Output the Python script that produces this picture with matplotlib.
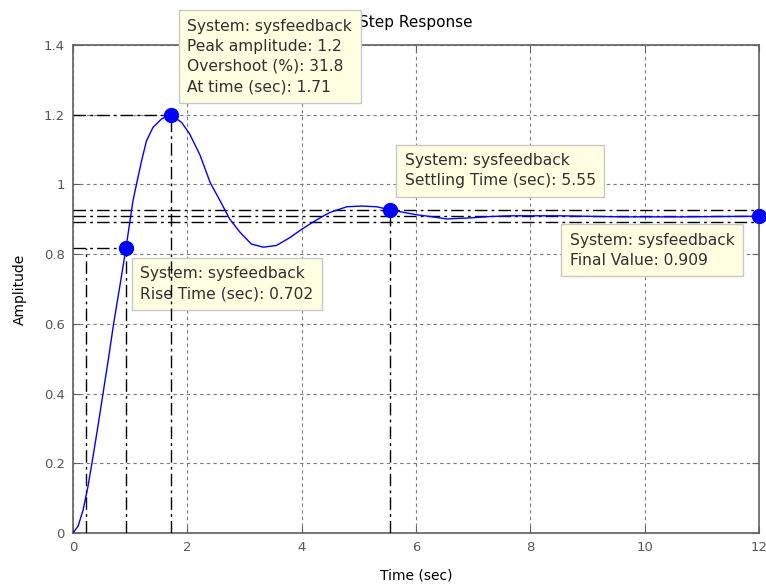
"""Respuesta al escalón del lazo cerrado con sus características marcadas."""
import numpy as np
import matplotlib.pyplot as plt

plt.rcParams['font.family'] = ['DejaVu Sans']

# Curva de respuesta (tiempo en s, amplitud)
t_resp = [0, 0.09, 0.175, 0.26, 0.33, 0.43, 0.525, 0.62, 0.71, 0.835, 0.927,
          1.05, 1.11, 1.2, 1.285, 1.4, 1.55, 1.71, 1.9, 2.04, 2.22, 2.4,
          2.57, 2.74, 2.92, 3.12, 3.33, 3.56, 3.8, 3.97, 4.15, 4.33, 4.5,
          4.79, 5.05, 5.31, 5.55, 6.01, 6.25, 6.54, 6.95, 7.3, 7.65, 8.5,
          9.6, 10.7, 12]
y_resp = [0, 0.02, 0.065, 0.132, 0.199, 0.3, 0.4, 0.5, 0.6, 0.724, 0.818,
          0.954, 1.0, 1.068, 1.125, 1.164, 1.188, 1.2, 1.178, 1.145, 1.085,
          1.005, 0.954, 0.901, 0.863, 0.829, 0.82, 0.825, 0.848, 0.868, 0.887,
          0.905, 0.92, 0.936, 0.938, 0.936, 0.927, 0.913, 0.908, 0.901,
          0.904, 0.908, 0.91, 0.91, 0.907, 0.907, 0.909]

# Características
t_peak, peak_amp, overshoot = 1.71, 1.2, 31.8
t10, t90, rise_time = 0.225, 0.927, 0.702
y90 = 0.818
t_settle, y_settle = 5.55, 0.927
final_val = 0.909
band = [0.927, 0.891]

fig = plt.figure(figsize=(7.66, 5.87), dpi=100)
ax = fig.add_axes([0.0953, 0.092, 0.8956, 0.8313])

ax.set_xlim(0, 12)
ax.set_ylim(0, 1.4)
ax.set_xticks(np.arange(0, 13, 2))
ax.set_yticks(np.arange(0, 1.41, 0.2))
ax.set_yticklabels(['0', '0.2', '0.4', '0.6', '0.8', '1', '1.2', '1.4'])

gris = '#606060'
ax.grid(True, color='#7a7a7a', linestyle=(0, (3, 3)), linewidth=0.8)
ax.tick_params(direction='in', length=5, top=True, right=True, pad=6,
               colors=gris, labelcolor='#555560', labelsize=9.5)
for s in ax.spines.values():
    s.set_color(gris)
    s.set_linewidth(1.2)

# Líneas de las características (punto-raya negras)
dd = dict(color='k', linewidth=1.0, linestyle=(0, (9, 3, 2, 3)), zorder=4)
ax.plot([0, t_peak], [peak_amp, peak_amp], **dd)
ax.plot([t_peak, t_peak], [0, peak_amp], **dd)
ax.plot([0, t90], [y90, y90], **dd)
ax.plot([t10, t10], [0, y90], **dd)
ax.plot([t90, t90], [0, y90], **dd)
ax.plot([t_settle, t_settle], [0, y_settle], **dd)
for yb in band:
    ax.plot([0, 12], [yb, yb], **dd)
ax.plot([0, 12], [final_val, final_val], **dd)

ax.plot(t_resp, y_resp, color='#0000ff', linewidth=1.0, zorder=5)

puntos_t = [t90, t_peak, t_settle, 12]
puntos_y = [y90, peak_amp, y_settle, final_val]
ax.plot(puntos_t, puntos_y, 'o', color='#0000ff', markersize=10,
        zorder=6, clip_on=False)

ax.set_title('Step Response', fontsize=11, pad=13, zorder=1)
ax.set_xlabel('Time (sec)', fontsize=10, labelpad=10)
ax.set_ylabel('Amplitude', fontsize=10, labelpad=12)

caja = dict(boxstyle='square,pad=0.55', facecolor='#ffffe1',
            edgecolor='#c8c8c8', linewidth=1.0)
txt = dict(fontsize=11.2, color='#303030', ha='left', va='top',
           linespacing=1.42, bbox=caja, clip_on=False)

ax.text(2.0, 1.475,
        'System: sysfeedback\nPeak amplitude: %.1f\nOvershoot (%%): %.1f\n'
        'At time (sec): %.2f' % (peak_amp, overshoot, t_peak),
        zorder=8, **txt)
ax.text(1.18, 0.765,
        'System: sysfeedback\nRise Time (sec): %.3f' % rise_time,
        zorder=3, **txt)
ax.text(5.8, 1.09,
        'System: sysfeedback\nSettling Time (sec): %.2f' % t_settle,
        zorder=8, **txt)
ax.text(8.69, 0.862,
        'System: sysfeedback\nFinal Value: %.3f' % final_val,
        zorder=8, **txt)

fig.savefig('out.png', dpi=100)
